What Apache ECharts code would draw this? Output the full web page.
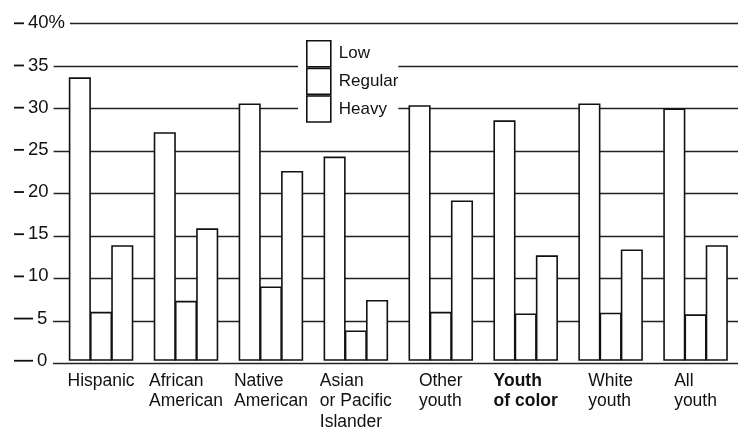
<!DOCTYPE html>
<html>
<head>
<meta charset="utf-8">
<script src="https://cdn.jsdelivr.net/npm/echarts@6/dist/echarts.min.js"></script>
<style>
  html, body { margin: 0; padding: 0; background: #fff; }
  #chart { width: 738px; height: 431px; }
</style>
</head>
<body>
<div id="chart"></div>
<script>
const categories = [
  "Hispanic",
  "African\nAmerican",
  "Native\nAmerican",
  "Asian\nor Pacific\nIslander",
  "Other\nyouth",
  "Youth\nof color",
  "White\nyouth",
  "All\nyouth"
];
const boldCategory = "Youth\nof color";

const low = [33.6, 27.1, 30.5, 24.2, 30.3, 28.5, 30.5, 29.9];
const regular = [5.8, 7.1, 8.8, 3.6, 5.8, 5.6, 5.7, 5.5];
const heavy = [13.7, 15.7, 22.5, 7.2, 19.0, 12.5, 13.2, 13.7];

const yMin = 0, yMax = 40, yStep = 5;

const font = "'Liberation Sans', Arial, Helvetica, sans-serif";
const ink = "#111";

const myChart = echarts.init(document.getElementById("chart"));

function bar(name, data) {
  return {
    name: name,
    type: "bar",
    xAxisIndex: 1,
    yAxisIndex: 1,
    barGap: "-4%",
    barCategoryGap: "24%",
    data: data,
    itemStyle: { color: "#fff", borderColor: ink, borderWidth: 1.6 },
    emphasis: { disabled: true },
    silent: true
  };
}

const option = {
  animation: false,
  backgroundColor: "#fff",
  textStyle: { fontFamily: font },
  grid: [
    // gridlines only
    { left: 53, right: 0, top: 23.3, bottom: 67.7 },
    // bars
    { left: 58.6, width: 686.4, top: 23.3, bottom: 67.7 }
  ],
  legend: {
    orient: "vertical",
    left: 298,
    top: 40,
    itemWidth: 24,
    itemHeight: 26,
    itemGap: 0,
    padding: [0, 0, 0, 8],
    backgroundColor: "#fff",
    icon: "rect",
    selectedMode: false,
    itemStyle: { color: "#fff", borderColor: ink, borderWidth: 1.6 },
    textStyle: { fontFamily: font, fontSize: 17, color: ink, padding: [0, 0, 0, 3] },
    data: ["Low", "Regular", "Heavy"]
  },
  xAxis: [
    {
      gridIndex: 0,
      type: "category",
      data: categories,
      show: false
    },
    {
      gridIndex: 1,
      type: "category",
      data: categories,
      axisLine: { show: false },
      axisTick: { show: false },
      axisLabel: {
        interval: 0,
        margin: 10,
        align: "center",
        verticalAlign: "top",
        formatter: function (v) {
          const style = v === boldCategory ? "b" : "t";
          return v.split("\n").map(function (s) {
            return "{" + style + "|" + s + "}";
          }).join("\n");
        },
        rich: {
          t: { fontFamily: font, fontSize: 17.5, lineHeight: 20.5, color: ink, align: "left" },
          b: { fontFamily: font, fontSize: 17.5, lineHeight: 20.5, color: ink, fontWeight: "bold", align: "left" }
        }
      }
    }
  ],
  yAxis: [
    {
      gridIndex: 0,
      type: "value",
      min: yMin,
      max: yMax,
      interval: yStep,
      axisLine: { show: false },
      axisTick: { show: false },
      axisLabel: { show: false },
      splitLine: { lineStyle: { color: "#222", width: 1.3 } }
    },
    {
      gridIndex: 1,
      type: "value",
      min: yMin,
      max: yMax,
      interval: yStep,
      z: 3,
      axisLine: { show: false },
      axisTick: { show: false },
      splitLine: { show: false },
      axisLabel: {
        align: "left",
        margin: 44.6,
        backgroundColor: "#fff",
        padding: [2, 5, 2, 0],
        formatter: function (v) {
          const s = String(v);
          const dash = s.length === 1 ? "d1" : "d2";
          return "{" + dash + "|}{n|" + s + (v === yMax ? "%" : "") + "}";
        },
        rich: {
          d1: { width: 19, height: 1.8, backgroundColor: ink },
          d2: { width: 10, height: 1.8, backgroundColor: ink },
          n: { fontFamily: font, fontSize: 18.5, color: ink, padding: [0, 0, 0, 4] }
        }
      }
    }
  ],
  series: [bar("Low", low), bar("Regular", regular), bar("Heavy", heavy)]
};

myChart.setOption(option);
</script>
</body>
</html>
